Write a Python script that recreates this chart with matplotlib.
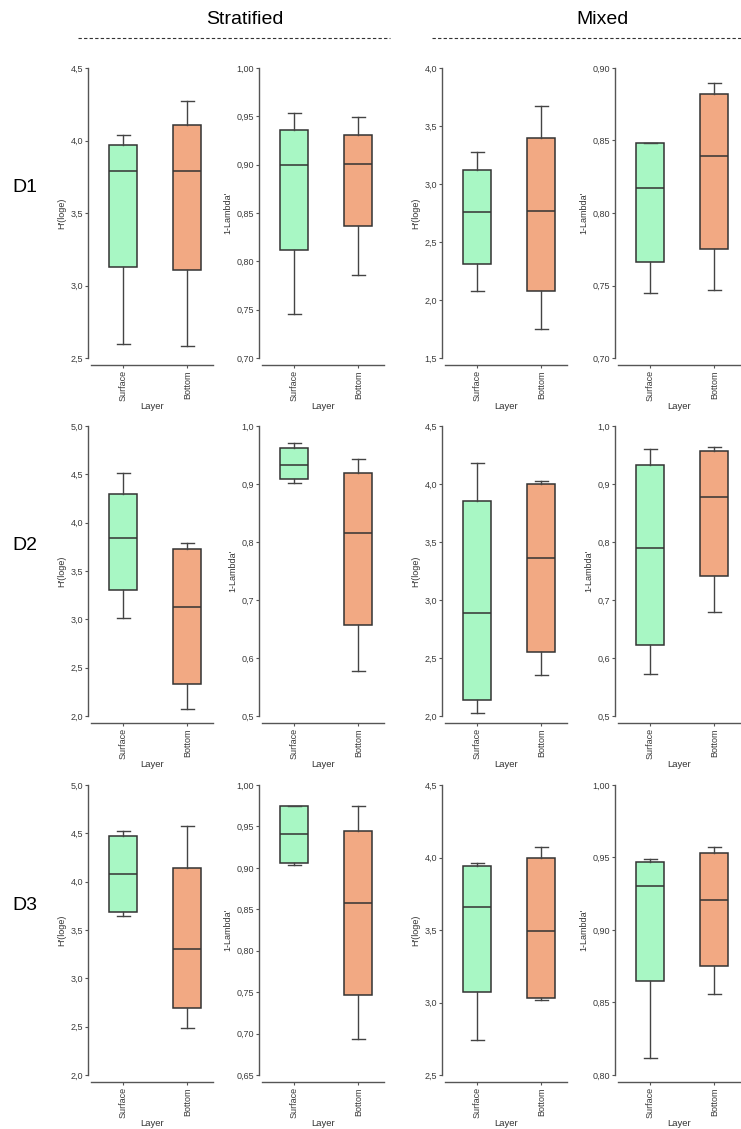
import matplotlib
matplotlib.use('Agg')
import matplotlib.pyplot as plt
from matplotlib.lines import Line2D
from matplotlib.ticker import MultipleLocator, FuncFormatter

plt.rcParams['font.family'] = ['Liberation Sans', 'DejaVu Sans']

# ---------- Data ----------
# five-number summaries: [whisker_lo, q1, median, q3, whisker_hi]
LAYERS = ['Surface', 'Bottom']
LAYER_COLORS = ['#a8f7c4', '#f2a983']

# D1
STRAT_D1_H = [[2.60, 3.13, 3.79, 3.97, 4.04], [2.58, 3.11, 3.79, 4.11, 4.27]]
STRAT_D1_L = [[0.745, 0.812, 0.900, 0.936, 0.953], [0.786, 0.837, 0.901, 0.931, 0.949]]
MIXED_D1_H = [[2.08, 2.31, 2.76, 3.12, 3.28], [1.75, 2.08, 2.77, 3.40, 3.67]]
MIXED_D1_L = [[0.745, 0.766, 0.817, 0.848, 0.848], [0.747, 0.775, 0.839, 0.882, 0.890]]
# D2
STRAT_D2_H = [[3.01, 3.30, 3.84, 4.30, 4.51], [2.07, 2.33, 3.13, 3.73, 3.79]]
STRAT_D2_L = [[0.902, 0.908, 0.933, 0.962, 0.971], [0.577, 0.657, 0.815, 0.919, 0.943]]
MIXED_D2_H = [[2.03, 2.14, 2.89, 3.85, 4.18], [2.35, 2.55, 3.36, 4.00, 4.03]]
MIXED_D2_L = [[0.573, 0.622, 0.790, 0.933, 0.960], [0.679, 0.742, 0.878, 0.957, 0.963]]
# D3
STRAT_D3_H = [[3.64, 3.69, 4.08, 4.47, 4.52], [2.49, 2.69, 3.30, 4.14, 4.58]]
STRAT_D3_L = [[0.904, 0.906, 0.941, 0.975, 0.975], [0.693, 0.747, 0.858, 0.945, 0.975]]
MIXED_D3_H = [[2.74, 3.07, 3.66, 3.94, 3.96], [3.02, 3.03, 3.49, 4.00, 4.07]]
MIXED_D3_L = [[0.812, 0.865, 0.930, 0.947, 0.949], [0.856, 0.875, 0.921, 0.953, 0.957]]

H_LABEL = "H'(loge)"
L_LABEL = "1-Lambda'"

# rows x columns: (data, ylim, tick step, decimals, ylabel)
PANELS = [
    [(STRAT_D1_H, (2.5, 4.5), 0.5, 1, H_LABEL), (STRAT_D1_L, (0.70, 1.00), 0.05, 2, L_LABEL),
     (MIXED_D1_H, (1.5, 4.0), 0.5, 1, H_LABEL), (MIXED_D1_L, (0.70, 0.90), 0.05, 2, L_LABEL)],
    [(STRAT_D2_H, (2.0, 5.0), 0.5, 1, H_LABEL), (STRAT_D2_L, (0.5, 1.0), 0.1, 1, L_LABEL),
     (MIXED_D2_H, (2.0, 4.5), 0.5, 1, H_LABEL), (MIXED_D2_L, (0.5, 1.0), 0.1, 1, L_LABEL)],
    [(STRAT_D3_H, (2.0, 5.0), 0.5, 1, H_LABEL), (STRAT_D3_L, (0.65, 1.00), 0.05, 2, L_LABEL),
     (MIXED_D3_H, (2.5, 4.5), 0.5, 1, H_LABEL), (MIXED_D3_L, (0.80, 1.00), 0.05, 2, L_LABEL)],
]
ROW_NAMES = ['D1', 'D2', 'D3']
GROUP_NAMES = ['Stratified', 'Mixed']

# ---------- Layout (pixels) ----------
W, H = 741, 1129
COL_LEFT = [91, 262, 445, 618]
COL_WIDTH = 122
ROW_TOP = [68, 426, 785]
ROW_HEIGHT = 290
EDGE = '#333333'


def comma_fmt(decimals):
    return FuncFormatter(lambda v, _: f'{v:.{decimals}f}'.replace('.', ','))


fig = plt.figure(figsize=(W / 100, H / 100), dpi=100)
fig.patch.set_facecolor('white')

for r, row in enumerate(PANELS):
    for c, (data, ylim, step, dec, ylabel) in enumerate(row):
        rect = [COL_LEFT[c] / W, 1 - (ROW_TOP[r] + ROW_HEIGHT) / H,
                COL_WIDTH / W, ROW_HEIGHT / H]
        ax = fig.add_axes(rect)
        stats = []
        for name, (lo, q1, med, q3, hi) in zip(LAYERS, data):
            stats.append({'label': name, 'whislo': lo, 'q1': q1, 'med': med,
                          'q3': q3, 'whishi': hi, 'fliers': []})
        bp = ax.bxp(stats, positions=[1, 2], widths=0.44, patch_artist=True,
                    showfliers=False, capwidths=0.2,
                    boxprops=dict(edgecolor=EDGE, linewidth=1.1),
                    medianprops=dict(color=EDGE, linewidth=1.1),
                    whiskerprops=dict(color='#444444', linewidth=1.0),
                    capprops=dict(color='#444444', linewidth=1.0))
        for patch, col in zip(bp['boxes'], LAYER_COLORS):
            patch.set_facecolor(col)

        ax.set_xlim(0.5, 2.4)
        ax.set_ylim(*ylim)
        ax.yaxis.set_major_locator(MultipleLocator(step))
        ax.yaxis.set_major_formatter(comma_fmt(dec))
        ax.set_xticks([1, 2])
        ax.set_xticklabels(LAYERS)
        ax.set_xlabel('Layer', fontsize=6.8, color='#333333', labelpad=0.5)
        ax.set_ylabel(ylabel, fontsize=6.5, color='#333333', labelpad=3)

        for side in ['top', 'right']:
            ax.spines[side].set_visible(False)
        ax.spines['bottom'].set_position(('outward', 5))
        ax.spines['left'].set_position(('outward', 2))
        for side in ['bottom', 'left']:
            ax.spines[side].set_color('#555555')
            ax.spines[side].set_linewidth(1.0)
        ax.tick_params(axis='both', direction='out', length=2.5, width=0.8,
                       color='#555555', labelsize=6.5, labelcolor='#3a3a3a', pad=1.2)
        ax.tick_params(axis='x', labelrotation=90)
        ax.set_facecolor('none')

# row labels
for r, name in enumerate(ROW_NAMES):
    y = ROW_TOP[r] + 120
    fig.text(25 / W, 1 - y / H, name, fontsize=14, ha='center', va='center')

# group titles with dashed rules
for (name, xc, x0, x1) in [(GROUP_NAMES[0], 245, 78, 390), (GROUP_NAMES[1], 603, 432, 741)]:
    fig.text(xc / W, 1 - 19 / H, name, fontsize=14, ha='center', va='center')
    fig.add_artist(Line2D([x0 / W, x1 / W], [1 - 38 / H, 1 - 38 / H],
                          transform=fig.transFigure, color='#333333',
                          linewidth=0.8, linestyle=(0, (3, 2))))

fig.savefig('out.png', dpi=100)
